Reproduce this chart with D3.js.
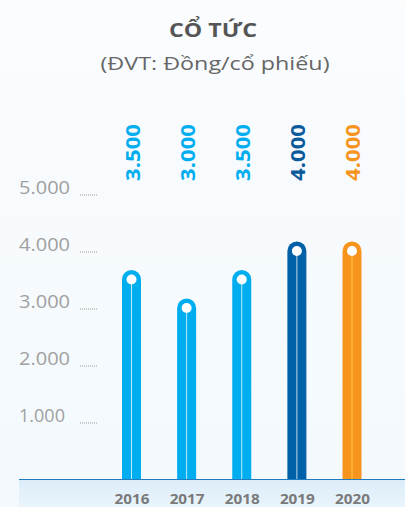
<!DOCTYPE html>
<html>
<head>
<meta charset="utf-8">
<script src="https://cdn.jsdelivr.net/npm/d3@7"></script>
<style>
  html, body { margin: 0; padding: 0; }
  body { width: 405px; height: 507px; overflow: hidden; background: #f8fbfd; }
  svg { display: block; }
</style>
</head>
<body>
<svg id="chart" width="405" height="507"></svg>
<script>
// Dividend per share by year
const years = ["2016", "2017", "2018", "2019", "2020"];
const dividends = [3500, 3000, 3500, 4000, 4000];
const barColors = ["#00aeef", "#00aeef", "#00aeef", "#0061a8", "#f7941d"];
const labelColors = ["#00aeef", "#00aeef", "#00aeef", "#0a5a9c", "#f7941d"];
const tickValues = [1000, 2000, 3000, 4000, 5000];
const titleText = "CỔ TỨC";
const subtitleText = "(ĐVT: Đồng/cổ phiếu)";

const FONT = "'Open Sans', 'Noto Sans', sans-serif";
const fmt = v => d3.format(",")(v).replace(/,/g, ".");

const svg = d3.select("#chart");
const W = 405, H = 507;
const baseY = 479;

// background
const defs = svg.append("defs");
const bg = defs.append("linearGradient").attr("id", "bg").attr("x1", 0).attr("y1", 0).attr("x2", 0).attr("y2", 1);
bg.append("stop").attr("offset", "0%").attr("stop-color", "#fafcfe");
bg.append("stop").attr("offset", "100%").attr("stop-color", "#f3f9fd");
svg.append("rect").attr("width", W).attr("height", H).attr("fill", "url(#bg)");

const band = defs.append("linearGradient").attr("id", "band").attr("x1", 0).attr("y1", 0).attr("x2", 0).attr("y2", 1);
band.append("stop").attr("offset", "0%").attr("stop-color", "#dcedf9");
band.append("stop").attr("offset", "100%").attr("stop-color", "#eaf4fb");
svg.append("rect").attr("x", 19).attr("y", baseY).attr("width", W - 19).attr("height", H - baseY).attr("fill", "url(#band)");

// scales
const y = d3.scaleLinear().domain([0, 5000]).range([baseY, 194]);
const x = d3.scalePoint().domain(years).range([131.5, 352]);

// title
svg.append("text").attr("x", 213).attr("y", 37).attr("text-anchor", "middle")
  .attr("font-family", FONT).attr("font-weight", 700)
  .attr("font-size", 20).attr("textLength", 88).attr("lengthAdjust", "spacingAndGlyphs")
  .attr("fill", "#555").text(titleText);
svg.append("text").attr("x", 215).attr("y", 70).attr("text-anchor", "middle")
  .attr("font-family", FONT).attr("font-weight", 400)
  .attr("font-size", 18.5).attr("textLength", 229).attr("lengthAdjust", "spacingAndGlyphs")
  .attr("fill", "#666").text(subtitleText);

// y axis: labels + dotted tick stubs
const axis = d3.axisLeft(y).tickValues(tickValues).tickFormat(fmt).tickSize(0);
const gAxis = svg.append("g").call(axis);
gAxis.select(".domain").remove();
gAxis.selectAll(".tick text")
  .attr("x", 19).attr("dy", "-0.05em").attr("text-anchor", "start")
  .attr("font-family", FONT).attr("font-weight", 400)
  .attr("font-size", 17.5).attr("textLength", d => d === 1000 ? 46 : 51).attr("lengthAdjust", "spacingAndGlyphs")
  .attr("fill", "#a0a0a0");
gAxis.selectAll(".tick").append("line")
  .attr("x1", 80).attr("x2", 98).attr("y1", 0.5).attr("y2", 0.5)
  .attr("stroke", "#9a9a9a").attr("stroke-width", 1).attr("stroke-dasharray", "1,1");

// bars
const bw = 19, r = bw / 2;
const bars = svg.append("g").selectAll("g").data(years).join("g")
  .attr("transform", d => `translate(${x(d)},0)`);

bars.append("path")
  .attr("d", (d, i) => {
    const top = y(dividends[i]) - r;
    return `M${-r},${baseY} L${-r},${top + r} A${r},${r} 0 0 1 ${r},${top + r} L${r},${baseY} Z`;
  })
  .attr("fill", (d, i) => barColors[i]);

bars.append("line")
  .attr("x1", 0).attr("x2", 0)
  .attr("y1", (d, i) => y(dividends[i]) + 4)
  .attr("y2", baseY)
  .attr("stroke", (d, i) => i === 4 ? "#ffd24a" : "#ffffff")
  .attr("stroke-opacity", (d, i) => i === 4 ? 0.9 : 0.75)
  .attr("stroke-width", 1);

bars.append("circle")
  .attr("cx", 0).attr("cy", (d, i) => y(dividends[i]))
  .attr("r", 5).attr("fill", "#ffffff");

// value labels, rotated
bars.append("text")
  .attr("transform", "translate(8,181) rotate(-90)")
  .attr("text-anchor", "start")
  .attr("font-family", FONT).attr("font-weight", 700)
  .attr("font-size", 20).attr("textLength", 57).attr("lengthAdjust", "spacingAndGlyphs")
  .attr("fill", (d, i) => labelColors[i])
  .text((d, i) => fmt(dividends[i]));

// baseline
svg.append("line").attr("x1", 19).attr("x2", W).attr("y1", baseY + 0.5).attr("y2", baseY + 0.5)
  .attr("stroke", "#1f7cc0").attr("stroke-width", 1.2);

// x axis labels
const xAxis = d3.axisBottom(x).tickSize(0);
const gx = svg.append("g").attr("transform", `translate(0,${baseY})`).call(xAxis);
gx.select(".domain").remove();
gx.selectAll(".tick text")
  .attr("y", 15).attr("dy", "0.71em")
  .attr("font-family", FONT).attr("font-weight", 700)
  .attr("font-size", 14.5).attr("textLength", 35).attr("lengthAdjust", "spacingAndGlyphs")
  .attr("fill", "#7a7a7a");
</script>
</body>
</html>
